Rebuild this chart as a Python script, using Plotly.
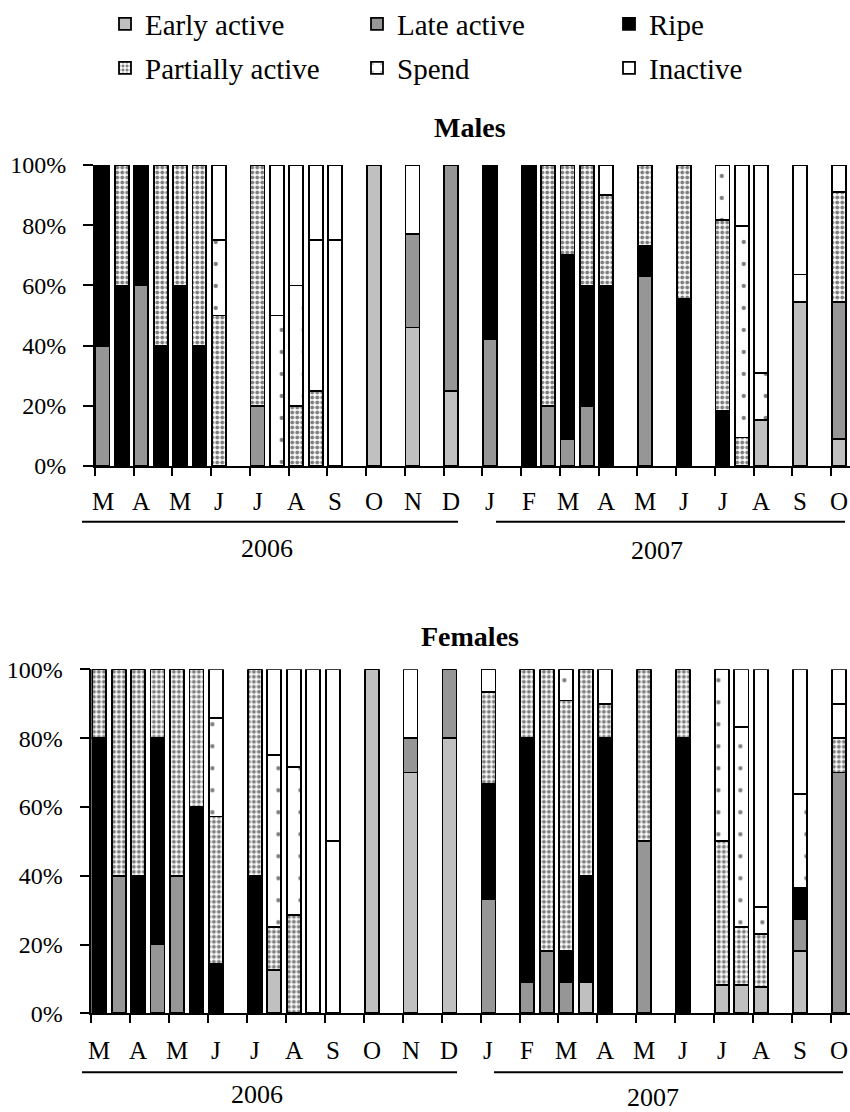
import plotly.graph_objects as go

W, H = 850, 1112
FONT = "Liberation Serif"

# ---------------- data ----------------
months = ["M", "A", "M", "J", "J", "A", "S", "O", "N", "D",
          "J", "F", "M", "A", "M", "J", "J", "A", "S", "O"]
years = ["2006", "2007"]
stages = ["Early active", "Late active", "Ripe", "Partially active", "Spend", "Inactive"]
ytick_vals = [0, 20, 40, 60, 80, 100]
ytick_text = ["0%", "20%", "40%", "60%", "80%", "100%"]

# half-month sampling slots (0 = first half of March 2006)
slots = [0, 1, 2, 3, 4, 5, 6, 8, 9, 10, 11, 12, 14, 16, 18,
         20, 22, 23, 24, 25, 26, 28, 30, 32, 33, 34, 36, 38]

males_early    = [0, 0, 0, 0, 0, 0, 0, 0, 0, 0, 0, 0, 100, 46, 25,
                  0, 0, 0, 0, 0, 0, 0, 0, 0, 0, 15.4, 54.5, 9.1]
males_late     = [40, 0, 60, 0, 0, 0, 0, 20, 0, 0, 0, 0, 0, 31, 75,
                  42, 0, 20, 9, 20, 0, 63, 0, 0, 0, 0, 0, 45.5]
males_ripe     = [60, 60, 40, 40, 60, 40, 0, 0, 0, 0, 0, 0, 0, 0, 0,
                  58, 100, 0, 61, 40, 60, 10, 55.6, 18.2, 0, 0, 0, 0]
males_partial  = [0, 40, 0, 60, 40, 60, 50, 80, 0, 20, 25, 0, 0, 0, 0,
                  0, 0, 80, 30, 40, 30, 27, 44.4, 63.6, 9.5, 0, 0, 36.4]
males_spend    = [0, 0, 0, 0, 0, 0, 25, 0, 50, 40, 50, 75, 0, 0, 0,
                  0, 0, 0, 0, 0, 0, 0, 0, 18.2, 70.2, 15.4, 9.1, 0]
males_inactive = [0, 0, 0, 0, 0, 0, 25, 0, 50, 40, 25, 25, 0, 23, 0,
                  0, 0, 0, 0, 0, 10, 0, 0, 0, 20.3, 69.2, 36.4, 9.1]

females_early    = [0, 0, 0, 0, 0, 0, 0, 0, 12.5, 0, 0, 0, 100, 70, 80,
                    0, 0, 0, 0, 9.1, 0, 0, 0, 8.3, 8.3, 7.7, 18.2, 0]
females_late     = [0, 40, 0, 20, 40, 0, 0, 0, 0, 0, 0, 0, 0, 10, 20,
                    33.3, 9.1, 18.2, 9.1, 0, 0, 50, 0, 0, 0, 0, 9.1, 70]
females_ripe     = [80, 0, 40, 60, 0, 60, 14.3, 40, 0, 0, 0, 0, 0, 0, 0,
                    33.3, 70.9, 0, 9.1, 30.9, 80, 0, 80, 0, 0, 0, 9.1, 0]
females_partial  = [20, 60, 60, 20, 60, 40, 42.9, 60, 12.5, 28.6, 0, 0, 0, 0, 0,
                    26.7, 20, 81.8, 72.7, 60, 10, 50, 20, 41.7, 16.7, 15.4, 0, 10]
females_spend    = [0, 0, 0, 0, 0, 0, 28.6, 0, 50, 42.9, 0, 50, 0, 0, 0,
                    6.7, 0, 0, 9.1, 0, 0, 0, 0, 50, 58.3, 7.7, 27.3, 10]
females_inactive = [0, 0, 0, 0, 0, 0, 14.3, 0, 25, 28.6, 100, 50, 0, 20, 0,
                    0, 0, 0, 0, 0, 10, 0, 0, 0, 16.7, 69.2, 36.4, 10]

males = [males_early, males_late, males_ripe, males_partial, males_spend, males_inactive]
females = [females_early, females_late, females_ripe, females_partial, females_spend, females_inactive]

# ---------------- styles ----------------
styles = {
    "Early active": dict(color="#c0c0c0"),
    "Late active": dict(color="#969696"),
    "Ripe": dict(color="#000000"),
    "Partially active": dict(color="#ffffff",
                             pattern=dict(shape=".", size=5, solidity=0.5,
                                          fgcolor="#000000", bgcolor="#ffffff", fillmode="overlay")),
    "Spend": dict(color="#ffffff",
                  pattern=dict(shape=".", size=22, solidity=0.03,
                               fgcolor="#000000", bgcolor="#ffffff", fillmode="overlay")),
    "Inactive": dict(color="#ffffff"),
}

fig = go.Figure()
for panel, (data, xa, ya) in enumerate([(males, "x", "y"), (females, "x2", "y2")]):
    for i, (name, vals) in enumerate(zip(stages, data)):
        st = styles[name]
        marker = dict(color=st["color"], line=dict(color="#000000", width=1.8))
        if "pattern" in st:
            marker["pattern"] = st["pattern"]
        fig.add_trace(go.Bar(
            x=slots, y=vals, name=name, marker=marker,
            xaxis=xa, yaxis=ya, legendgroup=name,
            legend="legend" if i < 3 else "legend2",
            showlegend=(panel == 0),
        ))


def py(p):  # page pixel y -> paper fraction
    return 1 - p / H


def px(p):  # page pixel x -> paper fraction
    return p / W


tickvals_x = [2 * m - 0.4 for m in range(len(months))]
xcommon = dict(range=[-0.4, 38.58], showgrid=False, zeroline=False, showline=True,
               linecolor="black", linewidth=1.5, tickvals=tickvals_x, ticks="outside",
               ticklen=8, tickwidth=1.5, tickcolor="black", showticklabels=False)
ycommon = dict(range=[0, 100], showgrid=False, zeroline=False, showline=True,
               linecolor="black", linewidth=1.5, tickvals=ytick_vals, ticktext=ytick_text,
               ticks="outside", ticklen=10, tickwidth=1.5,
               tickcolor="black", ticklabelstandoff=12,
               tickfont=dict(family=FONT, size=24, color="black"))

legend_common = dict(orientation="h", x=px(105), xanchor="left", yanchor="middle",
                     entrywidth=207, entrywidthmode="pixels", traceorder="normal",
                     font=dict(family=FONT, size=29, color="black"),
                     bgcolor="rgba(0,0,0,0)")

fig.update_layout(
    width=W, height=H, margin=dict(l=0, r=0, t=0, b=0, autoexpand=False),
    paper_bgcolor="white", plot_bgcolor="white",
    barmode="stack", bargap=0.28,
    xaxis=dict(domain=[px(94.75), 1.0], anchor="y", **xcommon),
    yaxis=dict(domain=[py(466), py(165)], anchor="x", **ycommon),
    xaxis2=dict(domain=[px(91.4), 1.0], anchor="y2", **xcommon),
    yaxis2=dict(domain=[py(1013.3), py(669.3)], anchor="x2", **ycommon),
    legend=dict(y=py(24), **legend_common),
    legend2=dict(y=py(68), **legend_common),
    font=dict(family=FONT, color="black"),
)

annotations = []
# month labels
for xa, ypix in [("x", 501), ("x2", 1050)]:
    for m, lab in enumerate(months):
        annotations.append(dict(x=2 * m, y=py(ypix), xref=xa, yref="paper", text=lab,
                                showarrow=False, xanchor="center", yanchor="middle",
                                font=dict(family=FONT, size=25, color="black")))
# year labels
for (xp, yp, t) in [(267, 548, years[0]), (657, 551, years[1]),
                    (257, 1094, years[0]), (653, 1097, years[1])]:
    annotations.append(dict(x=px(xp), y=py(yp), xref="paper", yref="paper", text=t,
                            showarrow=False, xanchor="center", yanchor="middle",
                            font=dict(family=FONT, size=26, color="black")))
# titles
for (yp, t) in [(128, "Males"), (636, "Females")]:
    annotations.append(dict(x=px(470), y=py(yp), xref="paper", yref="paper",
                            text="<b>" + t + "</b>", showarrow=False,
                            xanchor="center", yanchor="middle",
                            font=dict(family=FONT, size=28, color="black")))
fig.update_layout(annotations=annotations)

shapes = []
for (x0, x1, yp) in [(82, 458, 521.7), (496, 845, 521.7), (82, 457, 1072.3), (494, 843, 1072.3)]:
    shapes.append(dict(type="line", xref="paper", yref="paper", x0=px(x0), x1=px(x1),
                       y0=py(yp), y1=py(yp), line=dict(color="black", width=2)))
fig.update_layout(shapes=shapes)

# place the fixed-size figure flush with the page corner (no default body margin)
fig.write_html("out.html",
               config={"displayModeBar": False},
               post_script="document.body.style.margin='0';"
                           "document.documentElement.style.overflow='hidden';")
